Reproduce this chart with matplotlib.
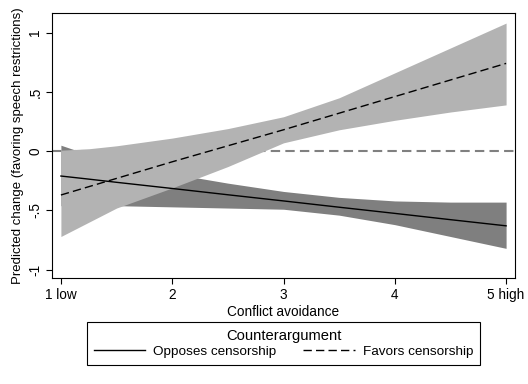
import matplotlib
matplotlib.use("Agg")
import matplotlib.pyplot as plt

plt.rcParams["font.family"] = ["Liberation Sans", "DejaVu Sans"]

# conflict avoidance grid
avoid = [1, 1.25, 1.5, 2, 2.5, 3, 3.5, 4, 4.5, 5]

# opposes censorship: estimate and CI
opp_est = [-0.21, -0.236, -0.263, -0.315, -0.368, -0.42, -0.473, -0.525, -0.578, -0.63]
opp_lo = [-0.46, -0.46, -0.46, -0.47, -0.48, -0.49, -0.54, -0.62, -0.72, -0.82]
opp_hi = [0.05, -0.03, -0.08, -0.19, -0.27, -0.34, -0.39, -0.42, -0.43, -0.43]

# favors censorship: estimate and CI
fav_est = [-0.37, -0.30, -0.23, -0.09, 0.045, 0.18, 0.32, 0.46, 0.60, 0.74]
fav_lo = [-0.72, -0.60, -0.48, -0.31, -0.13, 0.07, 0.18, 0.26, 0.33, 0.39]
fav_hi = [0.008, 0.02, 0.045, 0.11, 0.19, 0.29, 0.45, 0.66, 0.87, 1.08]

xticks = [1, 2, 3, 4, 5]
xticklabels = ["1 low", "2", "3", "4", "5 high"]
yticks = [-1, -0.5, 0, 0.5, 1]
yticklabels = ["-1", "-.5", "0", ".5", "1"]

fig = plt.figure(figsize=(5.28, 3.84), dpi=100)
ax = fig.add_axes([52 / 528, 1 - 278 / 384, 463 / 528, 265 / 384])

ax.axhline(0, color="#808080", lw=1.5, ls=(0, (4.5, 2.5)), zorder=1)
ax.fill_between(avoid, opp_lo, opp_hi, color="#7f7f7f", lw=0, zorder=2)
ax.fill_between(avoid, fav_lo, fav_hi, color="#b3b3b3", lw=0, zorder=3)
ax.plot(avoid, opp_est, color="black", lw=1.0, zorder=4, label="Opposes censorship")
ax.plot(avoid, fav_est, color="black", lw=1.0, ls=(0, (6, 3)), zorder=4,
        label="Favors censorship")

ax.set_xlim(0.92, 5.08)
ax.set_ylim(-1.07, 1.165)
ax.set_xticks(xticks)
ax.set_xticklabels(xticklabels)
ax.set_yticks(yticks)
ax.set_yticklabels(yticklabels, rotation=90, va="center")
ax.tick_params(direction="out", length=4, width=0.8, labelsize=9.8, pad=3)
for s in ax.spines.values():
    s.set_linewidth(0.8)

ax.set_xlabel("Conflict avoidance", fontsize=9.8, labelpad=2)
ax.set_ylabel("Predicted change (favoring speech restrictions)", fontsize=9.5, labelpad=3)

# legend centred under the plot region, as Stata does
leg = fig.legend(loc="center", bbox_to_anchor=(283.5 / 528, 1 - 343.5 / 384), ncol=2,
                 title="Counterargument", fontsize=9.7, title_fontsize=10.6,
                 handlelength=3.8, columnspacing=2.0, handletextpad=0.6,
                 fancybox=False, edgecolor="black", framealpha=1,
                 borderpad=0.5, labelspacing=0.2)
leg.get_frame().set_linewidth(0.8)

fig.savefig("out.png", dpi=100)
